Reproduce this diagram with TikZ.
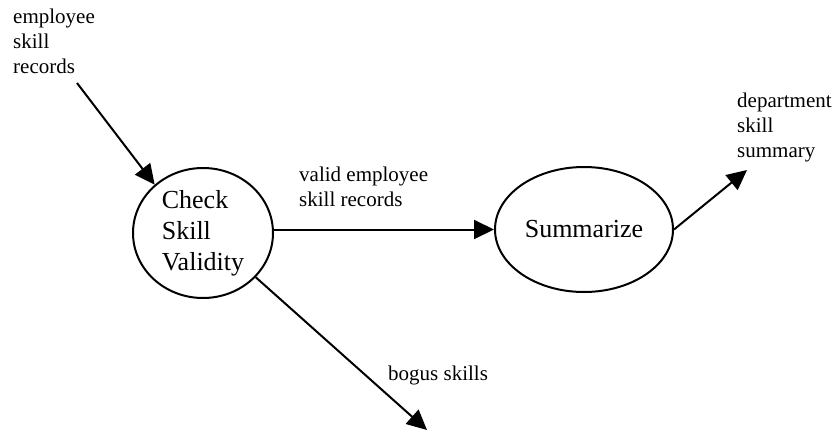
\documentclass[tikz,border=0pt]{standalone}
\usepackage{fontspec}
\setmainfont{Liberation Serif}
\usetikzlibrary{shapes.geometric,arrows.meta}
\begin{document}
\begin{tikzpicture}[x=1pt,y=1pt,
  proc/.style={ellipse,draw,line width=2pt,inner sep=0pt,align=left,font=\fontsize{26}{31}\selectfont},
  lbl/.style={inner sep=0pt,align=left,font=\fontsize{21}{25}\selectfont},
  arr/.style={line width=2pt,-{Triangle[length=20pt,width=19pt]}}]
\useasboundingbox (0,0) rectangle (836,-431);
\node[proc,minimum width=140,minimum height=130] (check) at (203,-233) {Check\\Skill\\Validity};
\node[proc,minimum width=178,minimum height=125] (summ) at (584,-229.5) {Summarize};
\node[lbl,anchor=north west] (inlbl) at (13,-8.3) {employee\\skill\\records};
\node[lbl,anchor=north west] (validlbl) at (299,-166.3) {valid employee\\skill records};
\node[lbl,anchor=north west] (deptlbl) at (737,-92.3) {department\\skill\\summary};
\node[lbl,anchor=base west] (boguslbl) at (388,-380) {bogus skills};
\coordinate (src) at (77,-83);
\coordinate (dst) at (747,-170);
\coordinate (bog) at (427,-430);
\draw[arr] (src) -- (check.135);
\draw[arr] (summ.west -| check.east) -- (summ.west);
\draw[arr] (summ.east) -- (dst);
\draw[arr] (check.-40) -- (bog);
\end{tikzpicture}
\end{document}
